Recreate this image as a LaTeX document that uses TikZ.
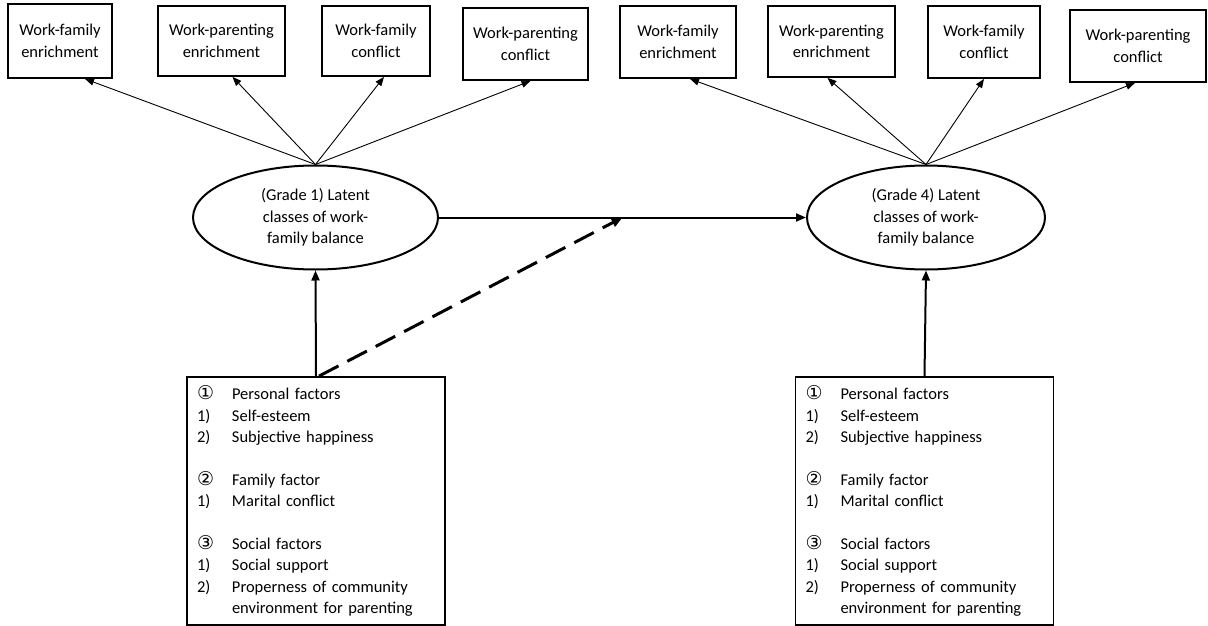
\documentclass[tikz,border=0pt]{standalone}
\usepackage{fontspec}
\setmainfont{Carlito}
\newfontfamily\simbolos{DejaVu Sans}
\usetikzlibrary{shapes.geometric,arrows.meta,calc}
\newcommand{\fila}[2]{\makebox[35pt][l]{#1}#2}
\newcommand{\circulo}[1]{{\simbolos\fontsize{19}{21}\selectfont #1}}
\newcommand{\factores}{%
  \fila{\circulo{①}}{Personal factors}\\
  \fila{1)}{Self-esteem}\\
  \fila{2)}{Subjective happiness}\\[21pt]
  \fila{\circulo{②}}{Family factor}\\
  \fila{1)}{Marital conflict}\\[21pt]
  \fila{\circulo{③}}{Social factors}\\
  \fila{1)}{Social support}\\
  \fila{2)}{Properness of community}\\
  \fila{}{environment for parenting}}
\tikzset{
  caja/.style={draw,line width=1.8pt,align=center,inner sep=2pt},
  elipse/.style={draw,ellipse,line width=2pt,align=center,minimum height=104pt},
  lista/.style={draw,line width=1.8pt,text width=238pt,inner xsep=10pt,minimum height=248pt,align=left},
  fina/.style={line width=0.9pt,-{Triangle[length=9pt,width=7pt]}},
  gruesa/.style={line width=2pt,-{Triangle[length=10pt,width=8pt]}},
  rayas/.style={line width=3pt,dash pattern=on 22pt off 10pt,-{Triangle[length=11pt,width=9pt]}}}

\begin{document}
\begin{tikzpicture}[x=1pt,y=-1pt,font={\fontsize{16.5}{21.5}\selectfont}]
  \useasboundingbox (0,0) rectangle (1208,626);
  % indicadores
  \foreach \n/\x/\y/\w/\h/\t in {
      a1/60/41/104/74/{Work-family\\enrichment},
      b1/221.5/41/127/70/{Work-parenting\\enrichment},
      c1/376/41/108/70/{Work-family\\conflict},
      d1/525.5/44/125/72/{Work-parenting\\conflict},
      a4/678/42/116/72/{Work-family\\enrichment},
      b4/831.5/41.5/127/71/{Work-parenting\\enrichment},
      c4/984/42/112/72/{Work-family\\conflict},
      d4/1138/46/136/72/{Work-parenting\\conflict}}
    \node[caja,minimum width=\w pt,minimum height=\h pt] (\n) at (\x,\y) {\t};
  % clases latentes
  \node[elipse,minimum width=245pt] (lat1) at (315.5,217.5) {(Grade 1) Latent\\classes of work-\\family balance};
  \node[elipse,minimum width=238pt] (lat4) at (926,217.5) {(Grade 4) Latent\\classes of work-\\family balance};
  % factores
  \node[lista] (fac1) at (316,501) {\factores};
  \node[lista] (fac4) at (924.5,501) {\factores};
  % flechas
  \foreach \n/\d in {a1/25,b1/11,c1/8,d1/5}
    \draw[fina] (lat1.north) -- ([xshift=\d]\n.south);
  \foreach \n/\d in {a4/12,b4/-4,c4/0,d4/-3}
    \draw[fina] (lat4.north) -- ([xshift=\d]\n.south);
  \draw[gruesa] (lat1.east) -- (lat4.west);
  \coordinate (medio) at ($(lat1.east)!0.5!(lat4.west)$);
  \draw[gruesa] (fac1.north) -- (lat1.south);
  \draw[gruesa] (fac4.north) -- (lat4.south);
  \draw[rayas] ([xshift=3pt]fac1.north) -- (medio);
\end{tikzpicture}
\end{document}
